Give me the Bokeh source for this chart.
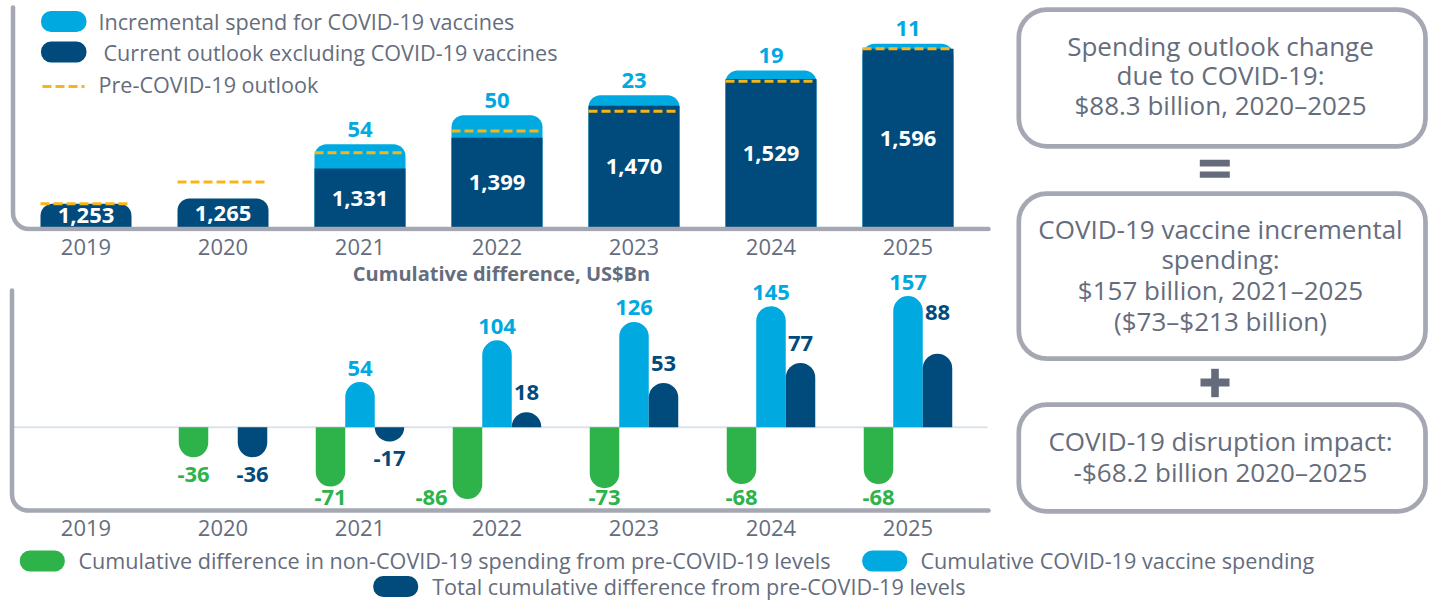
import math
from bokeh.plotting import figure
from bokeh.layouts import row, column
from bokeh.models import Range1d, FixedTicker
from bokeh.core.properties import value
from bokeh.embed import file_html
from bokeh.resources import INLINE

# ---------------- data ----------------
years = ["2019", "2020", "2021", "2022", "2023", "2024", "2025"]
current_excl_vaccines = [1253, 1265, 1331, 1399, 1470, 1529, 1596]
incremental_vaccines = [0, 0, 54, 50, 23, 19, 11]
pre_covid_outlook = [1253, 1301, 1366, 1414, 1458, 1524, 1596]

cum_non_covid = [0, -36, -71, -86, -73, -68, -68]
cum_vaccine = [0, 0, 54, 104, 126, 145, 157]
cum_total = [0, -36, -17, 18, 53, 77, 88]

top_legend = ["Incremental spend for COVID-19 vaccines",
              "Current outlook excluding COVID-19 vaccines",
              "Pre-COVID-19 outlook"]
bottom_legend = ["Cumulative difference in non-COVID-19 spending from pre-COVID-19 levels",
                 "Cumulative COVID-19 vaccine spending",
                 "Total cumulative difference from pre-COVID-19 levels"]
subtitle = "Cumulative difference, US$Bn"
box_texts = [["Spending outlook change", "due to COVID-19:", "$88.3 billion, 2020\u20132025"],
             ["COVID-19 vaccine incremental", "spending:", "$157 billion, 2021\u20132025",
              "($73\u2013$213 billion)"],
             ["COVID-19 disruption impact:", "-$68.2 billion 2020\u20132025"]]

# ---------------- style ----------------
FONT = "Open Sans"
LIGHT = "#00a9e0"
DARK = "#004a7c"
GREEN = "#2eb34b"
ORANGE = "#f7b51b"
TXT = "#656d7d"
FRAME = "#a5a8b2"
ZERO = "#dde3e8"
SYM = "#646b7b"
TICK_FS = "22px"
LEG_FS = "21.6px"
VAL_FS = "22px"

LEFT_W = 1000
X_ORIGIN = 85.5
X_PX = 137.0


def xd(sx):
    return (sx - X_ORIGIN) / X_PX


idx = list(range(len(years)))


def style_fig(p):
    p.xgrid.visible = False
    p.ygrid.visible = False
    p.outline_line_color = None
    p.background_fill_color = "white"
    p.border_fill_color = "white"


def style_xaxis(p, standoff):
    ax = p.xaxis[0]
    ax.ticker = FixedTicker(ticks=idx)
    ax.major_label_overrides = {i: y for i, y in zip(idx, years)}
    ax.axis_line_color = None
    ax.major_tick_line_color = None
    ax.minor_tick_line_color = None
    ax.major_label_text_font = FONT
    ax.major_label_text_font_size = TICK_FS
    ax.major_label_text_color = TXT
    ax.major_label_standoff = standoff


def draw_frame(p, xm, ym, left_px, top_px, bottom_px, right_px, r=16, w=4.5):
    p.segment(x0=[xm(left_px)], y0=[ym(top_px)], x1=[xm(left_px)], y1=[ym(bottom_px - r)],
              line_color=FRAME, line_width=w, line_cap="round")
    p.segment(x0=[xm(left_px + r)], y0=[ym(bottom_px)], x1=[xm(right_px)], y1=[ym(bottom_px)],
              line_color=FRAME, line_width=w, line_cap="round")
    p.arc(x=[xm(left_px + r)], y=[ym(bottom_px - r)], radius=r, radius_units="screen",
          start_angle=math.pi, end_angle=1.5 * math.pi, line_color=FRAME, line_width=w)


# ================= top chart =================
T_K = 0.452
T_REF_V, T_REF_PX = 1253, 203.3
BASE = 1200
TOP_H = 261


def ty(sy):
    return T_REF_V + (T_REF_PX - sy) / T_K


top = figure(width=LEFT_W, height=TOP_H, x_range=Range1d(xd(0), xd(1000)),
             y_range=Range1d(ty(231), ty(0)), output_backend="svg", toolbar_location=None,
             y_axis_location=None, min_border_left=0, min_border_right=0,
             min_border_top=0, min_border_bottom=TOP_H - 231)
style_fig(top)
style_xaxis(top, 1)

BW = 91 / X_PX
totals = [c + i for c, i in zip(current_excl_vaccines, incremental_vaccines)]
inc_i = [i for i in idx if incremental_vaccines[i] > 0]
noinc_i = [i for i in idx if incremental_vaccines[i] == 0]

top.vbar(x=inc_i, width=BW, bottom=BASE, top=[totals[i] for i in inc_i],
         fill_color=LIGHT, line_color=None, border_radius=(12, 12, 0, 0))
top.vbar(x=inc_i, width=BW, bottom=BASE, top=[current_excl_vaccines[i] for i in inc_i],
         fill_color=DARK, line_color=None)
top.vbar(x=noinc_i, width=BW, bottom=BASE, top=[current_excl_vaccines[i] for i in noinc_i],
         fill_color=DARK, line_color=None, border_radius=(12, 12, 0, 0))
top.segment(x0=[i - BW / 2 for i in idx], x1=[i + BW / 2 for i in idx],
            y0=pre_covid_outlook, y1=pre_covid_outlook,
            line_color=ORANGE, line_width=3, line_dash="9 4")

top.text(x=idx, y=[(BASE + c) / 2 for c in current_excl_vaccines],
         text=[f"{c:,}" for c in current_excl_vaccines],
         text_font=value(FONT), text_font_style="bold", text_font_size=VAL_FS,
         text_color="white", text_align="center", text_baseline="middle")
top.text(x=inc_i, y=[totals[i] + 15 / T_K for i in inc_i],
         text=[str(incremental_vaccines[i]) for i in inc_i],
         text_font=value(FONT), text_font_style="bold", text_font_size=VAL_FS,
         text_color=LIGHT, text_align="center", text_baseline="middle")

draw_frame(top, xd, ty, 12.5, 7, 228.5, 988)

# top legend
top.quad(left=[xd(40.5)] * 2, right=[xd(86)] * 2, top=[ty(10.5), ty(41)],
         bottom=[ty(31.5), ty(62)], fill_color=[LIGHT, DARK], line_color=None,
         border_radius=10)
top.segment(x0=[xd(42)], x1=[xd(84)], y0=[ty(86)], y1=[ty(86)],
            line_color=ORANGE, line_width=3, line_dash="9 4")
top.text(x=[xd(98), xd(103), xd(98)], y=[ty(21), ty(51.5), ty(84)], text=top_legend,
         text_font=value(FONT), text_font_size=LEG_FS, text_color=TXT,
         text_align="left", text_baseline="middle")

# ================= bottom chart =================
B_K = 0.835
B_ZERO_PX = 426.7
BOT_H = 541 - TOP_H


def by(sy):
    return (B_ZERO_PX - sy) / B_K


bot = figure(width=LEFT_W, height=BOT_H, x_range=Range1d(xd(0), xd(1000)),
             y_range=Range1d(by(514), by(TOP_H)), output_backend="svg", toolbar_location=None,
             y_axis_location=None, min_border_left=0, min_border_right=0,
             min_border_top=0, min_border_bottom=27)
style_fig(bot)
style_xaxis(bot, -1)

bot.segment(x0=[xd(13)], x1=[xd(987)], y0=[0], y1=[0], line_color=ZERO, line_width=2)

SW = 29.5 / X_PX
series = [("non", cum_non_covid, GREEN, -SW), ("vac", cum_vaccine, LIGHT, 0.0),
          ("tot", cum_total, DARK, SW)]
label_nudge_px = {("tot", 6): (0, -22), ("non", 3): (-36, 0)}

for name, vals, col, off in series:
    pos = [i for i in idx if vals[i] > 0]
    neg = [i for i in idx if vals[i] < 0]
    if pos:
        bot.vbar(x=[i + off for i in pos], width=SW, bottom=0, top=[vals[i] for i in pos],
                 fill_color=col, line_color=None, border_radius=(15, 15, 0, 0))
    if neg:
        bot.vbar(x=[i + off for i in neg], width=SW, top=0, bottom=[vals[i] for i in neg],
                 fill_color=col, line_color=None, border_radius=(0, 0, 15, 15))
    lx, ly, lt = [], [], []
    for i in pos + neg:
        v = vals[i]
        sy = B_ZERO_PX - v * B_K
        if v > 0:
            sy -= 14 if name == "vac" else 19.5
        else:
            sy = min(sy + 17, 497)
        dx, dy = label_nudge_px.get((name, i), (0, 0))
        lx.append(i + off + dx / X_PX)
        ly.append(by(sy + dy))
        lt.append(str(v))
    bot.text(x=lx, y=ly, text=lt, text_font=value(FONT), text_font_style="bold",
             text_font_size=VAL_FS, text_color=col, text_align="center",
             text_baseline="middle")

bot.text(x=[xd(501)], y=[by(273)], text=[subtitle], text_font=value(FONT),
         text_font_style="bold", text_font_size="20px", text_color=TXT,
         text_align="center", text_baseline="middle")

draw_frame(bot, xd, by, 11.5, 290, 510, 988)

# ================= right panel =================
right = figure(width=432, height=541, x_range=Range1d(1000, 1432), y_range=Range1d(541, 0),
               output_backend="svg", toolbar_location=None, x_axis_location=None,
               y_axis_location=None, min_border_left=0, min_border_right=0,
               min_border_top=0, min_border_bottom=0)
style_fig(right)
box_top = [9.2, 193.2, 404.2]
box_bot = [145.8, 358.2, 510.8]
right.quad(left=[1018.3] * 3, right=[1425] * 3, top=box_top, bottom=box_bot,
           fill_color="white", line_color=FRAME, line_width=4.7, border_radius=28)
first_line = [45, 228, 440.5]
line_step = [29.5, 30.7, 31]
tx, tyy, tt = [], [], []
for lines, y0, st in zip(box_texts, first_line, line_step):
    for k, ln in enumerate(lines):
        tx.append(1220)
        tyy.append(y0 + k * st)
        tt.append(ln)
right.text(x=tx, y=tyy, text=tt, text_font=value(FONT), text_font_size="26px",
           text_color=TXT, text_align="center", text_baseline="middle")
# "=" and "+"
right.quad(left=[1199.3, 1199.3, 1200, 1210.7], right=[1229.3, 1229.3, 1229, 1218.3],
           top=[159.3, 171, 378, 368.3], bottom=[166, 177.3, 386, 396.7],
           fill_color=SYM, line_color=None)

# ================= bottom legend =================
leg = figure(width=1432, height=59, x_range=Range1d(0, 1432), y_range=Range1d(600, 541),
             output_backend="svg", toolbar_location=None, x_axis_location=None,
             y_axis_location=None, min_border_left=0, min_border_right=0,
             min_border_top=0, min_border_bottom=0)
style_fig(leg)
leg.quad(left=[19.3, 861.7, 372.7], right=[64.3, 906.7, 417.7],
         top=[550, 550, 575.5], bottom=[571, 571, 596.5],
         fill_color=[GREEN, LIGHT, DARK], line_color=None, border_radius=10)
leg.text(x=[78, 920, 431.7], y=[560, 560, 585.5], text=bottom_legend, text_font=value(FONT),
         text_font_size=LEG_FS, text_color=TXT, text_align="left", text_baseline="middle")

layout = column(row(column(top, bot), right), leg)
open("out.html", "w").write(file_html(layout, INLINE))
